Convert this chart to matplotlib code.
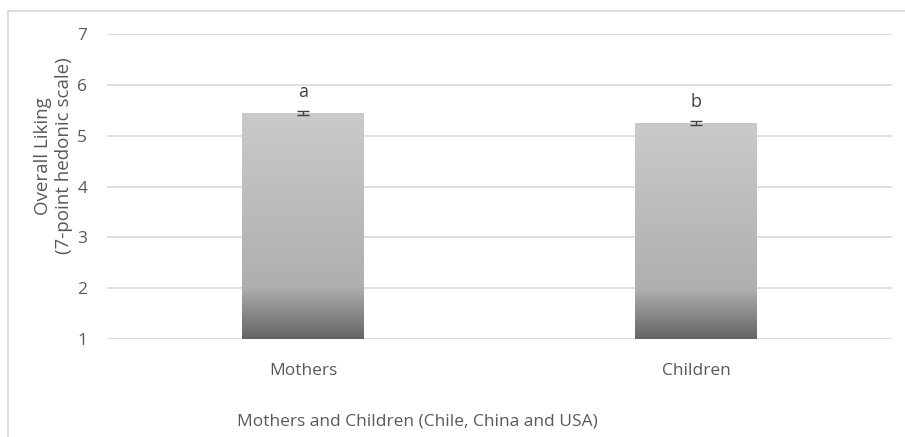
import numpy as np
import matplotlib.pyplot as plt
from matplotlib.colors import LinearSegmentedColormap
from matplotlib.lines import Line2D

# -------------------------------
# DATA
# -------------------------------
groups = ["Mothers", "Children"]
liking = [5.445, 5.25]
liking_err = [0.04, 0.04]
sig_letters = ["a", "b"]

plt.rcParams['font.family'] = ['Open Sans', 'DejaVu Sans']
txt_col = "#595959"

fig = plt.figure(figsize=(9.05, 4.37), dpi=100)
ax = fig.add_axes([0.118, 0.224, 0.868, 0.698])

x = np.arange(len(groups))
bars = ax.bar(x, np.array(liking) - 1, bottom=1, width=0.31,
              color="none", edgecolor="none", zorder=2)

# gradient fill like the Excel shape (dark bottom, light top)
grad_cmap = LinearSegmentedColormap.from_list(
    "barfill", [(0.0, "#646464"), (0.23, "#afafaf"), (1.0, "#cacaca")])
grad = np.linspace(0, 1, 256).reshape(-1, 1)
for b in bars:
    x0, y0 = b.get_x(), b.get_y()
    im = ax.imshow(grad, cmap=grad_cmap, origin="lower", aspect="auto",
                   extent=[x0, x0 + b.get_width(), y0, y0 + b.get_height()],
                   zorder=2)
    im.set_clip_path(b)

ax.errorbar(x, liking, yerr=liking_err, fmt="none", ecolor="#404040",
            elinewidth=1, capsize=4, capthick=1, zorder=3)

# significance letters
for xi, val, lab in zip(x, liking, sig_letters):
    ax.text(xi, val + 0.32, lab, ha="center", va="baseline", fontsize=13,
            color="#404040")

ax.set_xlim(-0.5, 1.5)
ax.set_ylim(1, 7)
ax.set_yticks(range(1, 8))
ax.set_xticks(x)
ax.set_xticklabels(groups)
ax.grid(axis="y", color="#d9d9d9", linewidth=1.2, zorder=0)
ax.set_axisbelow(True)
for s in ax.spines.values():
    s.set_visible(False)
ax.tick_params(length=0, labelsize=12.5, labelcolor=txt_col)
ax.tick_params(axis="x", pad=17)
ax.tick_params(axis="y", pad=14)

ax.set_ylabel("Overall Liking\n(7-point hedonic scale)", fontsize=13.5,
              color=txt_col, linespacing=1.2)
ax.yaxis.set_label_coords(-0.043, 0.60)
ax.set_xlabel("Mothers and Children (Chile, China and USA)", fontsize=12.5,
              color=txt_col, labelpad=25)
ax.xaxis.label.set_x(0.395)

# outer chart border (left and top edges visible)
fig.add_artist(Line2D([8 / 905, 8 / 905], [0, 1 - 11 / 437],
                      transform=fig.transFigure, color="#d9d9d9", lw=1.2))
fig.add_artist(Line2D([8 / 905, 1], [1 - 11 / 437, 1 - 11 / 437],
                      transform=fig.transFigure, color="#d9d9d9", lw=1.2))

fig.savefig("out.png", dpi=100)
